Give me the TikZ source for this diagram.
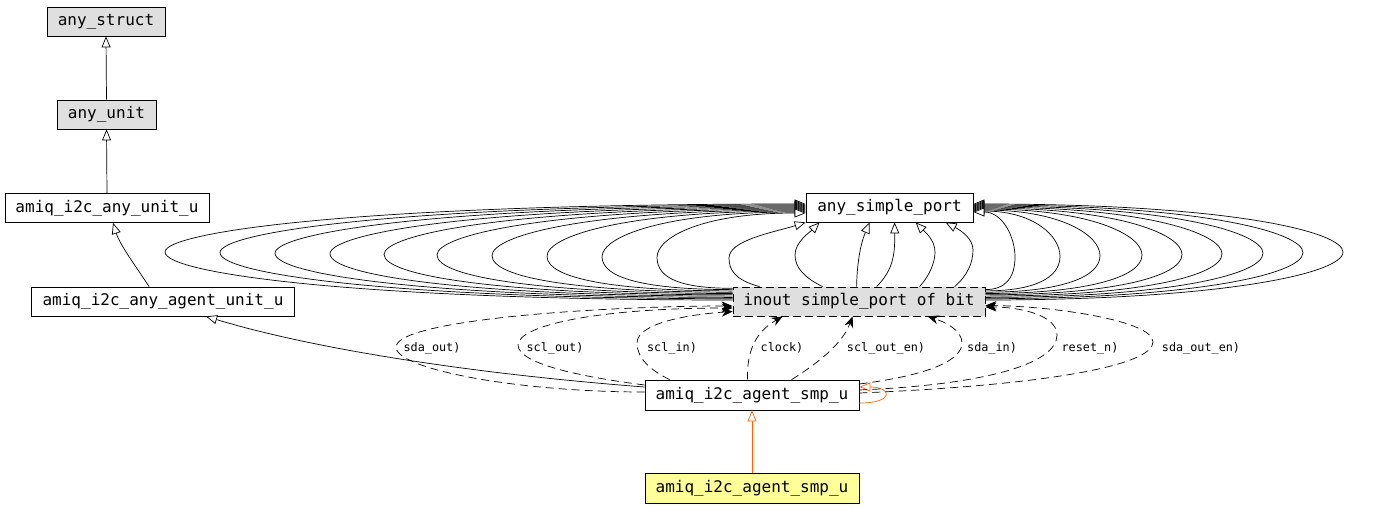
\documentclass[tikz,border=0pt]{standalone}
\usepackage{fontspec}
\newfontfamily\dvmono{DejaVu Sans Mono}
\usetikzlibrary{arrows.meta,calc}
\definecolor{boxgray}{HTML}{DFDFDF}
\definecolor{boxyellow}{HTML}{FFFF99}
\definecolor{edgeorange}{HTML}{FF6600}
\begin{document}
\begin{tikzpicture}[x=1pt,y=-1pt,
  box/.style={draw, line width=0.8pt, minimum height=29pt, inner sep=0pt,
    text height=11.5pt, text depth=3.5pt, font=\dvmono\fontsize{16}{19}\selectfont},
  gbox/.style={box, fill=boxgray},
  inh/.style={draw, line width=0.7pt, -{Triangle[length=11pt,width=9pt,fill=white]}},
  inho/.style={inh, draw=edgeorange},
  lnk/.style={draw, line width=0.7pt, dash pattern=on 8pt off 5pt, -{Stealth[length=11pt,width=9pt]}},
  lbl/.style={font=\dvmono\fontsize{11.8}{14}\selectfont, inner sep=1pt}]
\fill[white] (0,0) rectangle (1380,509);
\useasboundingbox (0,0) rectangle (1380,509);

% nodes
\node[gbox, minimum width=118pt] (struct) at (106,21.5) {any\_struct};
\node[gbox, minimum width=99pt] (unit) at (106.5,114.5) {any\_unit};
\node[box, minimum width=204pt] (anyunit) at (107,208) {amiq\_i2c\_any\_unit\_u};
\node[box, minimum width=263pt] (agentunit) at (163,301.5) {amiq\_i2c\_any\_agent\_unit\_u};
\node[box, minimum width=167pt] (port) at (889.5,207.5) {any\_simple\_port};
\node[gbox, dashed, dash pattern=on 8pt off 4pt, minimum width=252pt] (inout) at (859,301.5) {inout simple\_port of bit};
\node[box, minimum width=214pt, minimum height=30pt] (smp) at (752,395) {amiq\_i2c\_agent\_smp\_u};
\node[box, fill=boxyellow, minimum width=214pt, minimum height=30pt] (smp2) at (752,488) {amiq\_i2c\_agent\_smp\_u};

% inheritance chain
\draw[inh] (unit.north) -- (struct.south);
\draw[inh] (anyunit.north) -- (unit.south);
\draw[inh] ($(agentunit.north west)+(118,0)$) .. controls (135,265) and (120,245) .. ($(anyunit.south)+(6,0)$);
\draw[inh] ($(smp.west)+(0,-8)$) .. controls (450,372) and (300,345) .. ($(agentunit.south west)+(175,0)$);
\draw[inho] (smp2.north) -- (smp.south);
\draw[inho] ($(smp.east)+(0,8)$) .. controls (895,403) and (892,387) .. ($(smp.east)+(0,-8)$);

% left loops inout -> any_simple_port
\foreach \X [count=\i from 0] in {165,220,275,330,384,437,492,547,602,657} {
  \pgfmathsetmacro\sy{-1.5-1.3*\i}
  \pgfmathsetmacro\ey{-3.5+\i}
  \pgfmathsetmacro\yl{252+0.6*\i}
  \pgfmathsetmacro\ca{\X+0.35*(733-\X)}
  \pgfmathsetmacro\cd{\X+0.3*(806-\X)}
  \pgfmathsetmacro\ys{301.5+\sy}
  \pgfmathsetmacro\ye{207.5+\ey}
  \draw[inh] ($(inout.west)+(0,\sy)$) .. controls (\ca,\ys) and (\X,\yl+22) .. (\X,\yl)
     .. controls (\X,\yl-20) and (\cd,\ye) .. ($(port.west)+(0,\ey)$);
}
% right loops
\foreach \X [count=\i from 0] in {1343,1303,1263,1222,1182,1142,1100,1060,1015} {
  \pgfmathsetmacro\sy{-1.5-1.3*\i}
  \pgfmathsetmacro\ey{-3.5+\i}
  \pgfmathsetmacro\yl{252+0.6*\i}
  \pgfmathsetmacro\ca{\X-0.35*(\X-985)}
  \pgfmathsetmacro\cd{\X-0.3*(\X-973)}
  \pgfmathsetmacro\ys{301.5+\sy}
  \pgfmathsetmacro\ye{207.5+\ey}
  \draw[inh] ($(inout.east)+(0,\sy)$) .. controls (\ca,\ys) and (\X,\yl+22) .. (\X,\yl)
     .. controls (\X,\yl-20) and (\cd,\ye) .. ($(port.east)+(0,\ey)$);
}
% central edges
\draw[inh] ($(inout.north west)+(27,0)$) .. controls (735,280) and (729,270) .. (729,258)
   .. controls (729,240) and (775,232) .. (port.south west);
\draw[inh] ($(inout.north west)+(90,0)$) .. controls (805,278) and (795,268) .. (795,255)
   .. controls (795,242) and (810,232) .. ($(port.south west)+(14,0)$);
\draw[inh] ($(inout.north west)+(124,0)$) .. controls (857,265) and (860,245) .. ($(port.south west)+(64,0)$);
\draw[inh] ($(inout.north west)+(144,0)$) .. controls (893,270) and (895,255) .. ($(port.south west)+(89,0)$);
\draw[inh] ($(inout.north west)+(187,0)$) .. controls (930,275) and (935,262) .. (935,252)
   .. controls (935,240) and (925,232) .. ($(port.south west)+(110,0)$);
\draw[inh] ($(inout.north west)+(222,0)$) .. controls (968,275) and (973,262) .. (973,250)
   .. controls (973,238) and (960,230) .. ($(port.south west)+(140,0)$);

% labelled port links
\draw[lnk] ($(smp.west)+(0,-3)$) .. controls (520,392) and (400,370) .. (396,348)
   .. controls (392,320) and (600,306) .. ($(inout.west)+(0,4.5)$);
\draw[lnk] ($(smp.west)+(0,-10)$) .. controls (590,378) and (518,365) .. (518,345)
   .. controls (518,325) and (600,308) .. ($(inout.west)+(0,6.5)$);
\draw[lnk] ($(smp.north west)+(25,0)$) .. controls (650,370) and (637,358) .. (637,343)
   .. controls (637,325) and (680,315) .. ($(inout.west)+(0,10)$);
\draw[lnk] ($(smp.north west)+(103,0)$) .. controls (747,360) and (750,335) .. ($(inout.south west)+(50,0)$);
\draw[lnk] ($(smp.north west)+(147,0)$) .. controls (815,365) and (842,345) .. ($(inout.south west)+(120,0)$);
\draw[lnk] ($(smp.east)+(0,-11)$) .. controls (930,375) and (962,360) .. (962,343)
   .. controls (962,330) and (945,322) .. ($(inout.south west)+(195,0)$);
\draw[lnk] ($(smp.east)+(0,-5)$) .. controls (980,385) and (1057,365) .. (1057,335)
   .. controls (1057,315) and (1020,307) .. ($(inout.east)+(0,5.5)$);
\draw[lnk] ($(smp.east)+(0,-2)$) .. controls (1050,385) and (1153,365) .. (1153,342)
   .. controls (1153,320) and (1050,306) .. ($(inout.east)+(0,4)$);

% labels
\node[lbl] (l1) at (432,348) {sda\_out)};
\node[lbl] (l2) at (555,348) {scl\_out)};
\node[lbl] (l3) at (672,348) {scl\_in)};
\node[lbl] (l4) at (782,348) {clock)};
\node[lbl] (l5) at (886,348) {scl\_out\_en)};
\node[lbl] (l6) at (992,348) {sda\_in)};
\node[lbl] (l7) at (1090,348) {reset\_n)};
\node[lbl] (l8) at (1201,348) {sda\_out\_en)};
\end{tikzpicture}
\end{document}
